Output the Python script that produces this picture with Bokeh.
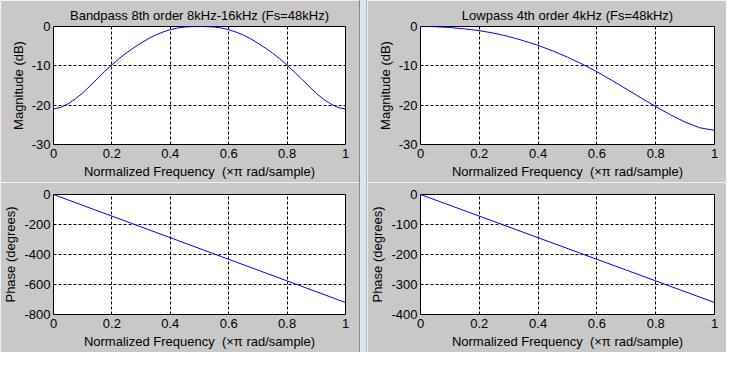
from bokeh.plotting import figure
from bokeh.layouts import row, column
from bokeh.models import Div, FixedTicker, Range1d
from bokeh.embed import file_html
from bokeh.resources import INLINE

# ---------------- data ----------------
bp_freq = [0, 0.025, 0.05, 0.075, 0.1, 0.125, 0.15, 0.175, 0.2, 0.225, 0.25,
           0.275, 0.3, 0.325, 0.35, 0.375, 0.4, 0.425, 0.45, 0.475, 0.5,
           0.525, 0.55, 0.575, 0.6, 0.625, 0.65, 0.675, 0.7, 0.725, 0.75,
           0.775, 0.8, 0.825, 0.85, 0.875, 0.9, 0.925, 0.95, 0.975, 1.0]
bp_mag = [-21.0, -20.55, -19.65, -18.4, -16.9, -15.1, -13.25, -11.45, -9.75, -8.15, -6.7,
          -5.4, -4.2, -3.1, -2.15, -1.4, -0.8, -0.38, -0.13, -0.03, 0.0,
          -0.03, -0.13, -0.38, -0.82, -1.42, -2.17, -3.12, -4.25, -5.45, -6.75,
          -8.2, -9.85, -11.55, -13.35, -15.2, -17.0, -18.5, -19.7, -20.6, -21.0]

lp_freq = [0, 0.05, 0.1, 0.15, 0.2, 0.25, 0.3, 0.35, 0.4, 0.45, 0.5,
           0.55, 0.6, 0.65, 0.7, 0.75, 0.8, 0.85, 0.9, 0.95, 1.0]
lp_mag = [0.0, -0.05, -0.25, -0.6, -1.05, -1.7, -2.55, -3.6, -4.8, -6.2, -7.8,
          -9.55, -11.5, -13.65, -15.9, -18.15, -20.35, -22.45, -24.3, -25.75, -26.4]

ph_freq = [0, 0.2, 0.4, 0.6, 0.8, 1.0]
bp_phase = [0, -144, -288, -432, -576, -720]
lp_phase = [0, -72, -144, -216, -288, -360]

x_ticks = [0, 0.2, 0.4, 0.6, 0.8, 1]
x_tick_labels = ["0", "0.2", "0.4", "0.6", "0.8", "1"]
mag_ticks = [-30, -20, -10, 0]
mag_tick_labels = ["-30", "-20", "-10", "0"]
bp_ph_ticks = [-800, -600, -400, -200, 0]
bp_ph_tick_labels = ["-800", "-600", "-400", "-200", "0"]
lp_ph_ticks = [-400, -300, -200, -100, 0]
lp_ph_tick_labels = ["-400", "-300", "-200", "-100", "0"]

titles = ["Bandpass 8th order 8kHz-16kHz (Fs=48kHz)", "Lowpass 4th order 4kHz (Fs=48kHz)"]
xlabel = "Normalized Frequency \u00a0(\u00d7\u03c0 rad/sample)"
mag_label = "Magnitude (dB)"
ph_label = "Phase (degrees)"

# ---------------- styling ----------------
BG = "#c8c8c8"
FONT = "Liberation Sans"
FS = "13px"


def make_fig(width, height, ylim, yticks, ylabels, ylabel, xs, ys,
             bl, br, bt, bb, title=None):
    p = figure(width=width, height=height, output_backend="svg",
               toolbar_location=None, x_range=Range1d(0, 1),
               y_range=Range1d(*ylim), min_border_left=bl, min_border_right=br,
               min_border_top=bt, min_border_bottom=bb,
               border_fill_color=BG, background_fill_color="white",
               outline_line_color="black", outline_line_width=1)
    if title:
        p.title.text = title
        p.title.align = "center"
        p.title.text_font = FONT
        p.title.text_font_size = FS
        p.title.text_font_style = "normal"
        p.title.text_color = "black"
        p.title.standoff = 7
    p.line(xs, ys, line_color="#0000ff", line_width=1)

    p.xaxis.ticker = FixedTicker(ticks=x_ticks)
    p.xaxis.major_label_overrides = {t: l for t, l in zip(x_ticks, x_tick_labels)}
    p.yaxis.ticker = FixedTicker(ticks=yticks)
    p.yaxis.major_label_overrides = {t: l for t, l in zip(yticks, ylabels)}
    p.xaxis.axis_label = xlabel
    p.yaxis.axis_label = ylabel
    for ax in (p.xaxis, p.yaxis):
        ax.axis_line_color = None
        ax.major_tick_line_color = None
        ax.minor_tick_line_color = None
        ax.major_tick_out = 0
        ax.major_tick_in = 0
        ax.major_label_text_font = FONT
        ax.major_label_text_font_size = FS
        ax.major_label_text_color = "black"
        ax.axis_label_text_font = FONT
        ax.axis_label_text_font_size = FS
        ax.axis_label_text_font_style = "normal"
        ax.axis_label_text_color = "black"
    p.xaxis.major_label_standoff = 4
    p.xaxis.axis_label_standoff = 3
    p.yaxis.major_label_standoff = 3
    p.yaxis.axis_label_standoff = 3
    p.xgrid.ticker = FixedTicker(ticks=x_ticks)
    p.ygrid.ticker = FixedTicker(ticks=yticks)
    for g in (p.xgrid, p.ygrid):
        g.grid_line_color = "black"
        g.grid_line_dash = "3 2"
        g.grid_line_width = 1
    return p


W = 359
TOP_H, BOT_H = 182, 170

tl = make_fig(W, TOP_H, (-30, 0), mag_ticks, mag_tick_labels, mag_label,
              bp_freq, bp_mag, 50, 14, 26, 38, titles[0])
bl_ = make_fig(W, BOT_H, (-800, 0), bp_ph_ticks, bp_ph_tick_labels, ph_label,
               ph_freq, bp_phase, 50, 14, 12, 38)
tr = make_fig(W, TOP_H, (-30, 0), mag_ticks, mag_tick_labels, mag_label,
              lp_freq, lp_mag, 52, 12, 26, 38, titles[1])
br_ = make_fig(W, BOT_H, (-400, 0), lp_ph_ticks, lp_ph_tick_labels, ph_label,
               ph_freq, lp_phase, 52, 12, 12, 38)

divider = Div(text="", width=8, height=TOP_H + BOT_H, margin=(0, 0, 0, 0),
              styles={"background-color": "#d8e5f3",
                      "border-left": "1px solid #8a8a8a",
                      "border-right": "1px solid #a9b6c4",
                      "box-sizing": "border-box"})

layout = row(column(tl, bl_, spacing=0), divider, column(tr, br_, spacing=0), spacing=0)

open("out.html", "w").write(file_html(layout, INLINE))
